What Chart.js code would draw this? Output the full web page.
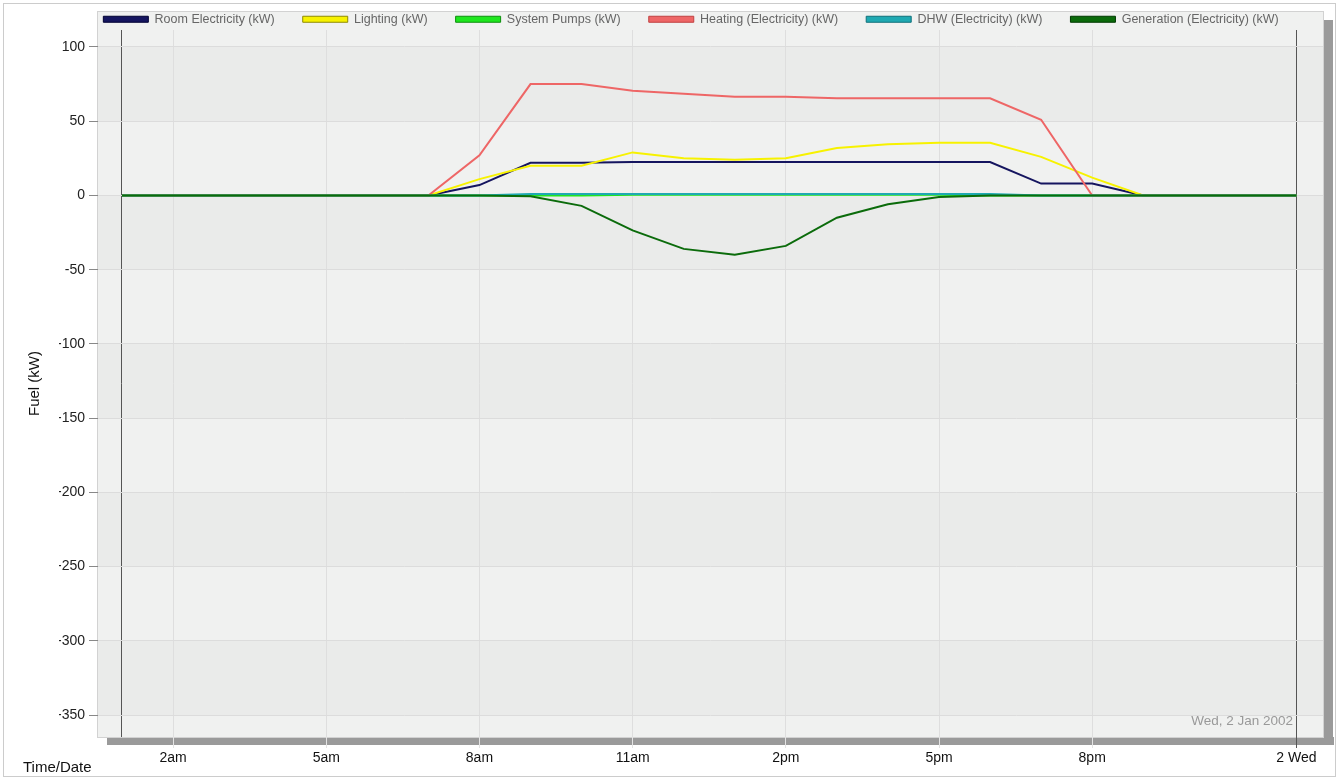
<!DOCTYPE html>
<html>
<head>
<meta charset="utf-8">
<title>Fuel (kW)</title>
<script src="https://cdn.jsdelivr.net/npm/chart.js@4.4.1/dist/chart.umd.min.js"></script>
<style>
    html, body { margin: 0; padding: 0; background: #fff; }
    canvas { display: block; }
</style>
</head>
<body>
<canvas id="fuel-chart" width="1338" height="780"></canvas>
<script>
// hourly values, Wed 2 Jan 2002 (hour 1 = 1am ... hour 24 = midnight)
const hours = [1, 2, 3, 4, 5, 6, 7, 8, 9, 10, 11, 12, 13, 14, 15, 16, 17, 18, 19, 20, 21, 22, 23, 24];
const roomElectricity = [0, 0, 0, 0, 0, 0, 0, 7, 22, 22, 22.5, 22.5, 22.5, 22.5, 22.5, 22.5, 22.5, 22.5, 8, 8, 0, 0, 0, 0];
const lighting = [0, 0, 0, 0, 0, 0, 0, 11, 20, 20, 29, 25, 24, 25, 32, 34.5, 35.5, 35.5, 26, 12, 0, 0, 0, 0];
const systemPumps = [0, 0, 0, 0, 0, 0, 0, 0, 0, 0, 0.4, 0.4, 0.4, 0.4, 0.4, 0.4, 0.4, 0, 0, 0, 0, 0, 0, 0];
const heating = [0, 0, 0, 0, 0, 0, 0, 27, 75, 75, 70.5, 68.5, 66.5, 66.5, 65.5, 65.5, 65.5, 65.5, 51, 0, 0, 0, 0, 0];
const dhw = [0, 0, 0, 0, 0, 0, 0, 0, 1, 1, 1, 1, 1, 1, 1, 1, 1, 1, 0, 0, 0, 0, 0, 0];
const generation = [0, 0, 0, 0, 0, 0, 0, 0, -0.5, -7, -23.5, -36, -40, -34, -15, -6, -1, 0, 0, 0, 0, 0, 0, 0];

const seriesNames = ['Room Electricity (kW)', 'Lighting (kW)', 'System Pumps (kW)', 'Heating (Electricity) (kW)', 'DHW (Electricity) (kW)', 'Generation (Electricity) (kW)'];
const seriesColors = ['#15155f', '#f7f200', '#1ee61e', '#ee6666', '#1fa9b2', '#0b6b0b'];
const swatchEdges = ['#000033', '#8f8a00', '#0e8e0e', '#c04040', '#10707a', '#003a00'];

const xTickHours = [1, 2, 5, 8, 11, 14, 17, 20, 24];
const xTickLabels = ['', '2am', '5am', '8am', '11am', '2pm', '5pm', '8pm', '2 Wed'];
const yTicks = [100, 50, 0, -50, -100, -150, -200, -250, -300, -350];

Chart.defaults.font.family = '"Liberation Sans", Arial, sans-serif';

function toPoints(values) {
    return hours.map((h, i) => ({ x: h, y: values[i] }));
}

const allSeries = [roomElectricity, lighting, systemPumps, heating, dhw, generation];

// grey plot panel with shadow and alternating bands, plus the loose texts
const panelPlugin = {
    id: 'panel',
    beforeDraw(chart) {
        const { ctx, chartArea: a, scales: { y } } = chart;
        ctx.save();
        ctx.fillStyle = '#ffffff';
        ctx.fillRect(0, 0, chart.width, chart.height);
        ctx.strokeStyle = '#cccccc';
        ctx.lineWidth = 1;
        ctx.strokeRect(3.5, 3.5, chart.width - 6, chart.height - 7);

        // shadow
        ctx.fillStyle = '#9a9a9a';
        ctx.fillRect(a.right + 1, 20, 9, a.bottom + 8 - 20);
        ctx.fillRect(a.left + 9, a.bottom, a.right - a.left + 2, 8);

        // panel
        ctx.fillStyle = '#f0f1f0';
        ctx.fillRect(a.left, 12, a.right - a.left, a.bottom - 12);
        ctx.fillStyle = '#eaebea';
        for (let v = -350; v < 100; v += 50) {
            if (Math.abs(v / 50) % 2 === 1) {
                const top = y.getPixelForValue(v + 50);
                const bottom = y.getPixelForValue(v);
                ctx.fillRect(a.left, top, a.right - a.left, bottom - top);
            }
        }
        ctx.strokeStyle = '#d2d2d2';
        ctx.strokeRect(a.left - 0.5, 11.5, a.right - a.left + 1, a.bottom - 11);
        ctx.restore();
    },
    afterDraw(chart) {
        const { ctx, chartArea: a } = chart;
        ctx.save();
        ctx.textBaseline = 'middle';
        ctx.font = '13.5px "Liberation Sans", Arial, sans-serif';
        ctx.fillStyle = '#999999';
        ctx.textAlign = 'right';
        ctx.fillText('Wed, 2 Jan 2002', a.right - 30, a.bottom - 16);
        ctx.font = '15px "Liberation Sans", Arial, sans-serif';
        ctx.fillStyle = '#111111';
        ctx.textAlign = 'left';
        ctx.fillText('Time/Date', 23, 768);
        ctx.restore();
    }
};

new Chart(document.getElementById('fuel-chart'), {
    type: 'line',
    data: {
        datasets: seriesNames.map((name, i) => ({
            label: name,
            data: toPoints(allSeries[i]),
            borderColor: seriesColors[i],
            backgroundColor: seriesColors[i],
            borderWidth: 2,
            pointRadius: 0,
            tension: 0,
            fill: false,
            order: seriesNames.length - 1 - i, // later series drawn on top
        })),
    },
    options: {
        responsive: false,
        animation: false,
        layout: {
            padding: { left: 59, right: 15, top: -15, bottom: 0 },
        },
        plugins: {
            legend: {
                position: 'top',
                maxHeight: 45,
                labels: {
                    boxWidth: 45,
                    boxHeight: 6,
                    padding: 28,
                    color: '#666666',
                    font: { size: 12.5 },
                    generateLabels(chart) {
                        const items = Chart.defaults.plugins.legend.labels.generateLabels(chart);
                        items.forEach(item => {
                            item.strokeStyle = swatchEdges[item.datasetIndex];
                            item.lineWidth = 1;
                        });
                        return items.sort((p, q) => p.datasetIndex - q.datasetIndex);
                    },
                },
            },
            tooltip: { enabled: false },
        },
        scales: {
            x: {
                type: 'linear',
                min: 0.53,
                max: 24.52,
                afterBuildTicks: scale => {
                    scale.ticks = xTickHours.map(v => ({ value: v }));
                },
                afterFit: scale => {
                    scale.height = 43;
                },
                border: { display: false },
                grid: {
                    color: c => (c.tick && (c.tick.value === 1 || c.tick.value === 24)) ? '#555555' : '#dedede',
                    tickColor: c => !c.tick || c.tick.value === 1 ? 'rgba(0,0,0,0)' : (c.tick.value === 24 ? '#555555' : '#e4e4e4'),
                    tickLength: 11,
                },
                ticks: {
                    autoSkip: false,
                    maxRotation: 0,
                    padding: 2,
                    color: '#111111',
                    font: { size: 14 },
                    callback: value => xTickLabels[xTickHours.indexOf(value)],
                },
            },
            y: {
                min: -364.82,
                max: 111.45,
                afterBuildTicks: scale => {
                    scale.ticks = yTicks.map(v => ({ value: v }));
                },
                afterFit: scale => {
                    scale.width = 39;
                },
                border: { display: false },
                grid: {
                    color: '#dcdcdc',
                    tickColor: '#888888',
                    tickLength: 9,
                },
                ticks: {
                    padding: 4,
                    color: '#222222',
                    font: { size: 14 },
                },
                title: {
                    display: true,
                    text: 'Fuel (kW)',
                    color: '#111111',
                    font: { size: 15 },
                    padding: { top: -33, bottom: 0 },
                },
            },
        },
    },
    plugins: [panelPlugin],
});
</script>
</body>
</html>
